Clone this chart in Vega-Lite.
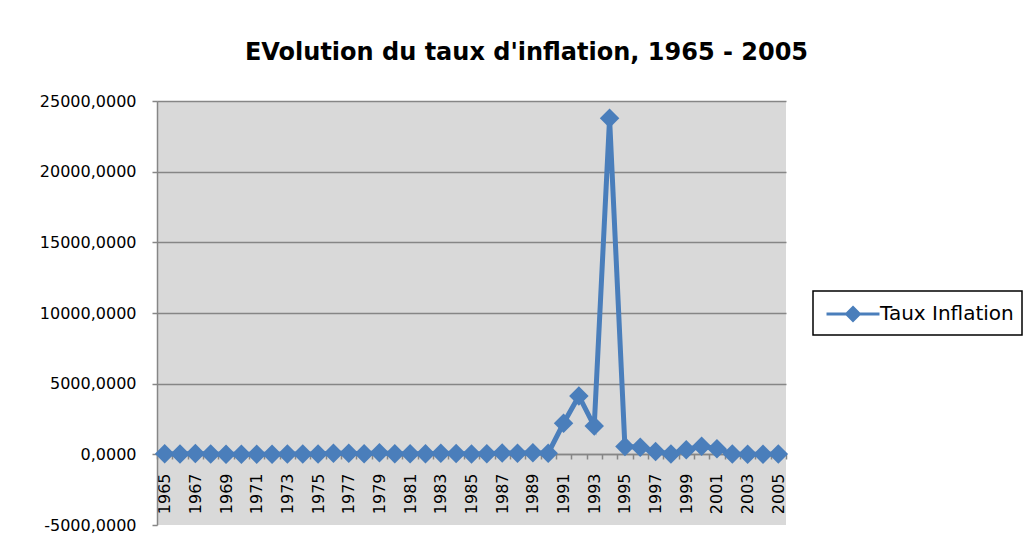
{
  "$schema": "https://vega.github.io/schema/vega-lite/v6.json",
  "width": 629,
  "height": 424,
  "autosize": {"type": "none"},
  "padding": {"left": 157, "top": 101, "right": 245, "bottom": 22},
  "background": "white",
  "title": {
    "text": "EVolution du taux d'inflation, 1965 - 2005",
    "font": "DejaVu Sans",
    "fontSize": 24,
    "fontWeight": "bold",
    "color": "#000000",
    "anchor": "middle",
    "frame": "group",
    "dx": 55,
    "offset": 28
  },
  "data": {
    "values": [
      {"annee": 1965, "taux": 36, "serie": "Taux Inflation"},
      {"annee": 1966, "taux": 25, "serie": "Taux Inflation"},
      {"annee": 1967, "taux": 60, "serie": "Taux Inflation"},
      {"annee": 1968, "taux": 25, "serie": "Taux Inflation"},
      {"annee": 1969, "taux": 10, "serie": "Taux Inflation"},
      {"annee": 1970, "taux": 8, "serie": "Taux Inflation"},
      {"annee": 1971, "taux": 5, "serie": "Taux Inflation"},
      {"annee": 1972, "taux": 12, "serie": "Taux Inflation"},
      {"annee": 1973, "taux": 16, "serie": "Taux Inflation"},
      {"annee": 1974, "taux": 30, "serie": "Taux Inflation"},
      {"annee": 1975, "taux": 29, "serie": "Taux Inflation"},
      {"annee": 1976, "taux": 80, "serie": "Taux Inflation"},
      {"annee": 1977, "taux": 70, "serie": "Taux Inflation"},
      {"annee": 1978, "taux": 49, "serie": "Taux Inflation"},
      {"annee": 1979, "taux": 108, "serie": "Taux Inflation"},
      {"annee": 1980, "taux": 42, "serie": "Taux Inflation"},
      {"annee": 1981, "taux": 35, "serie": "Taux Inflation"},
      {"annee": 1982, "taux": 37, "serie": "Taux Inflation"},
      {"annee": 1983, "taux": 76, "serie": "Taux Inflation"},
      {"annee": 1984, "taux": 52, "serie": "Taux Inflation"},
      {"annee": 1985, "taux": 24, "serie": "Taux Inflation"},
      {"annee": 1986, "taux": 47, "serie": "Taux Inflation"},
      {"annee": 1987, "taux": 90, "serie": "Taux Inflation"},
      {"annee": 1988, "taux": 83, "serie": "Taux Inflation"},
      {"annee": 1989, "taux": 104, "serie": "Taux Inflation"},
      {"annee": 1990, "taux": 81, "serie": "Taux Inflation"},
      {"annee": 1991, "taux": 2200, "serie": "Taux Inflation"},
      {"annee": 1992, "taux": 4130, "serie": "Taux Inflation"},
      {"annee": 1993, "taux": 2000, "serie": "Taux Inflation"},
      {"annee": 1994, "taux": 23773, "serie": "Taux Inflation"},
      {"annee": 1995, "taux": 560, "serie": "Taux Inflation"},
      {"annee": 1996, "taux": 500, "serie": "Taux Inflation"},
      {"annee": 1997, "taux": 199, "serie": "Taux Inflation"},
      {"annee": 1998, "taux": 29, "serie": "Taux Inflation"},
      {"annee": 1999, "taux": 330, "serie": "Taux Inflation"},
      {"annee": 2000, "taux": 580, "serie": "Taux Inflation"},
      {"annee": 2001, "taux": 400, "serie": "Taux Inflation"},
      {"annee": 2002, "taux": 25, "serie": "Taux Inflation"},
      {"annee": 2003, "taux": 13, "serie": "Taux Inflation"},
      {"annee": 2004, "taux": 4, "serie": "Taux Inflation"},
      {"annee": 2005, "taux": 21, "serie": "Taux Inflation"}
    ]
  },
  "mark": {
    "type": "line",
    "strokeWidth": 5,
    "point": {"shape": "diamond", "size": 380, "filled": true, "opacity": 1}
  },
  "encoding": {
    "x": {
      "field": "annee",
      "type": "ordinal",
      "scale": {"type": "band", "paddingInner": 0, "paddingOuter": 0},
      "axis": {
        "title": null,
        "orient": "bottom",
        "offset": -71,
        "labelAngle": -90,
        "labelExpr": "datum.value % 2 == 1 ? datum.label : ''",
        "labelOverlap": false,
        "tickBand": "extent",
        "domainColor": "#868686",
        "domainWidth": 1.5,
        "tickColor": "#868686",
        "tickWidth": 1.5,
        "tickSize": 5,
        "labelFont": "DejaVu Sans",
        "labelFontSize": 16,
        "labelColor": "#000000",
        "labelPadding": 14,
        "grid": false
      }
    },
    "y": {
      "field": "taux",
      "type": "quantitative",
      "scale": {"domain": [-5000, 25000], "nice": false, "zero": false},
      "axis": {
        "title": null,
        "values": [-5000, 0, 5000, 10000, 15000, 20000, 25000],
        "labelExpr": "datum.value + ',0000'",
        "grid": true,
        "gridColor": {"condition": {"test": "datum.value == -5000", "value": "transparent"}, "value": "#868686"},
        "gridWidth": 1.5,
        "domainColor": "#868686",
        "domainWidth": 1.5,
        "tickColor": "#868686",
        "tickWidth": 1.5,
        "tickSize": 5,
        "labelFont": "DejaVu Sans",
        "labelFontSize": 16,
        "labelColor": "#000000",
        "labelPadding": 16
      }
    },
    "color": {
      "field": "serie",
      "type": "nominal",
      "scale": {"range": ["#4a7ebb"]},
      "legend": {
        "title": null,
        "orient": "none",
        "legendX": 656,
        "legendY": 190,
        "padding": 8,
        "strokeColor": "#000000",
        "fillColor": "#ffffff",
        "symbolType": "M-2,0L2,0M0,-0.48L0.48,0L0,0.48L-0.48,0Z",
        "symbolSize": 702,
        "symbolFillColor": "#4a7ebb",
        "symbolStrokeColor": "#4a7ebb",
        "symbolStrokeWidth": 3,
        "symbolOffset": 17,
        "labelOffset": 12,
        "labelFont": "DejaVu Sans",
        "labelFontSize": 20,
        "labelColor": "#000000",
        "encode": {"legend": {"update": {"strokeWidth": {"value": 1.5}}}}
      }
    }
  },
  "config": {"view": {"fill": "#d9d9d9", "stroke": null}}
}
